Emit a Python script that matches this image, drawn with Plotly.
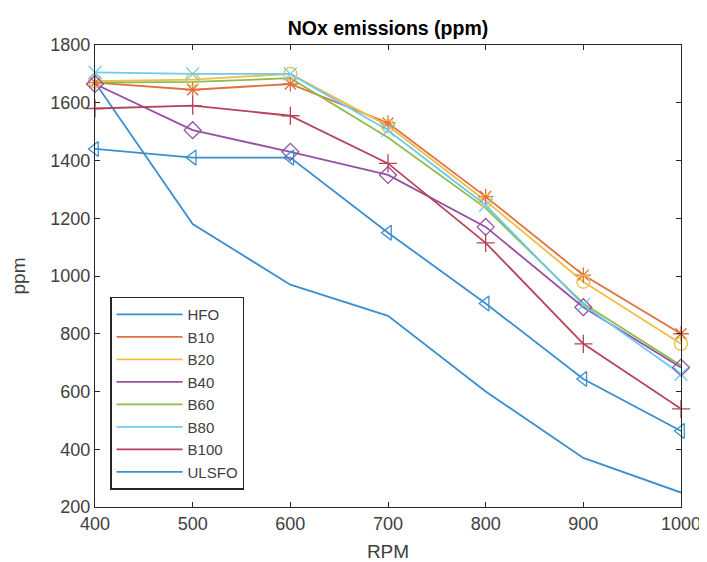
import plotly.graph_objects as go

rpm = [400, 500, 600, 700, 800, 900, 1000]
series_names = ["HFO", "B10", "B20", "B40", "B60", "B80", "B100", "ULSFO"]
hfo   = [1670, 1180, 970, 862, 600, 370, 250]
b10   = [1670, 1645, 1665, 1530, 1275, 1003, 800]
b20   = [1675, 1680, 1700, 1520, 1260, 980, 765]
b40   = [1665, 1505, 1430, 1350, 1170, 892, 683]
b60   = [1670, 1672, 1685, 1480, 1235, 905, 690]
b80   = [1705, 1700, 1700, 1505, 1245, 900, 660]
b100  = [1580, 1590, 1555, 1390, 1115, 765, 540]
ulsfo = [1440, 1410, 1410, 1150, 905, 643, 463]
values = [hfo, b10, b20, b40, b60, b80, b100, ulsfo]

colors = ["#3a8fd0", "#e0703f", "#efbe45", "#9650a3", "#8cbb4e", "#6dcbf0", "#b5435a", "#3a8fd0"]
symbols = [None, "asterisk-open", "circle-open", "diamond-open", None,
           "x-thin-open", "cross-thin-open", "triangle-left-open"]

fig = go.Figure()
for name, vals, col, sym in zip(series_names, values, colors, symbols):
    fig.add_trace(go.Scatter(x=rpm, y=vals, mode="lines", name=name,
                             line=dict(color=col, width=1.8)))
for name, vals, col, sym in zip(series_names, values, colors, symbols):
    if sym is not None:
        fig.add_trace(go.Scatter(x=rpm, y=vals, mode="markers", showlegend=False,
                                 cliponaxis=False,
                                 marker=dict(symbol=sym, size=13, color=col,
                                             line=dict(color=col, width=1.3))))

axis_common = dict(showline=True, linecolor="#262626", linewidth=1.3, mirror="ticks",
                   ticks="inside", ticklen=5, tickcolor="#262626", showgrid=False,
                   zeroline=False, automargin=False, ticklabeloverflow="allow",
                   tickfont=dict(size=18, color="#404040"))
fig.update_xaxes(range=[400, 1000], tickvals=rpm,
                 title=dict(text="RPM", font=dict(size=19, color="#404040"), standoff=17),
                 **axis_common)
fig.update_yaxes(range=[200, 1800], tickvals=list(range(200, 1801, 200)),
                 title=dict(text="ppm", font=dict(size=19, color="#404040"), standoff=19),
                 **axis_common)

# page body has an 8px margin, so the figure is sized to fit the window
fig.update_layout(
    width=699, height=554,
    margin=dict(l=87, r=26, t=37, b=55),
    paper_bgcolor="white", plot_bgcolor="white",
    font=dict(family="Liberation Sans, Arial, sans-serif", color="#404040"),
    title=dict(text="<b>NOx emissions (ppm)</b>", x=0.5, xref="paper", xanchor="center",
               y=0.963, yanchor="middle", font=dict(size=19.5, color="#000000")),
    legend=dict(x=0.026, y=0.455, xanchor="left", yanchor="top",
                bordercolor="#262626", borderwidth=1.3, bgcolor="white",
                font=dict(size=15, color="#404040"), tracegroupgap=0, itemwidth=66),
    showlegend=True,
)
fig.write_html("out.html")
